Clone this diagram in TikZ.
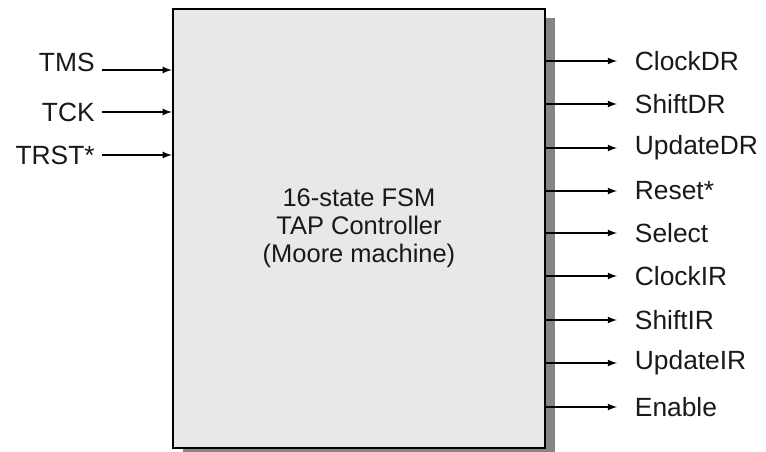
\documentclass[tikz,border=0pt]{standalone}
\usepackage{fontspec}
\setmainfont{Liberation Sans}
\usetikzlibrary{arrows,positioning,shadows}

\begin{document}
\begin{tikzpicture}[x=0.02cm,y=-0.02cm,
  sig/.style={arrows=-latex,thick},
  pin/.style={shape=rectangle,inner ysep=1pt,text=black!90,font=\fontsize{15}{18}\selectfont}]
\useasboundingbox (0,0) rectangle (766,452);

\node[shape=rectangle,draw,line width=1.4pt,fill=black!9,
  minimum width=7.44cm,minimum height=8.78cm,
  drop shadow={shadow xshift=0.2cm,shadow yshift=-0.18cm,fill=black!48,opacity=1},
  align=center,text=black!90,font=\fontsize{14.5}{16}\selectfont] (fsm) at (359,228.5)
  {16-state FSM\\TAP Controller\\(Moore machine)};

\node[pin,left,inner xsep=4pt] (TMS) at (102,62) {TMS};
\node[pin,left,inner xsep=4pt] (TCK) at (102,112) {TCK};
\node[pin,left,inner xsep=4pt] (TRST) at (102,155) {TRST*};
\coordinate (tms-in) at (fsm.west |- 0,70);
\coordinate (tck-in) at (fsm.west |- TCK);
\coordinate (trst-in) at (fsm.west |- TRST);
\draw[sig] (TMS.east |- tms-in) -- (tms-in);
\draw[sig] (TCK.east) -- (tck-in);
\draw[sig] (TRST.east) -- (trst-in);

\node[pin,right,inner xsep=10pt] (ClockDR) at (617,61) {ClockDR};
\node[pin,right,inner xsep=10pt] (ShiftDR) at (617,104) {ShiftDR};
\node[pin,right,inner xsep=10pt] (UpdateDR) at (617,148) {UpdateDR};
\node[pin,right,inner xsep=10pt] (Reset) at (617,191) {Reset*};
\node[pin,right,inner xsep=10pt] (Select) at (617,233) {Select};
\node[pin,right,inner xsep=10pt] (ClockIR) at (617,276) {ClockIR};
\node[pin,right,inner xsep=10pt] (ShiftIR) at (617,320) {ShiftIR};
\node[pin,right,inner xsep=10pt] (UpdateIR) at (617,363) {UpdateIR};
\node[pin,right,inner xsep=10pt] (Enable) at (617,407) {Enable};
\draw[sig] (fsm.east |- ClockDR) -- (ClockDR);
\draw[sig] (fsm.east |- ShiftDR) -- (ShiftDR);
\draw[sig] (fsm.east |- UpdateDR) -- (UpdateDR);
\draw[sig] (fsm.east |- Reset) -- (Reset);
\draw[sig] (fsm.east |- Select) -- (Select);
\draw[sig] (fsm.east |- ClockIR) -- (ClockIR);
\draw[sig] (fsm.east |- ShiftIR) -- (ShiftIR);
\draw[sig] (fsm.east |- UpdateIR) -- (UpdateIR);
\draw[sig] (fsm.east |- Enable) -- (Enable);
\end{tikzpicture}
\end{document}
